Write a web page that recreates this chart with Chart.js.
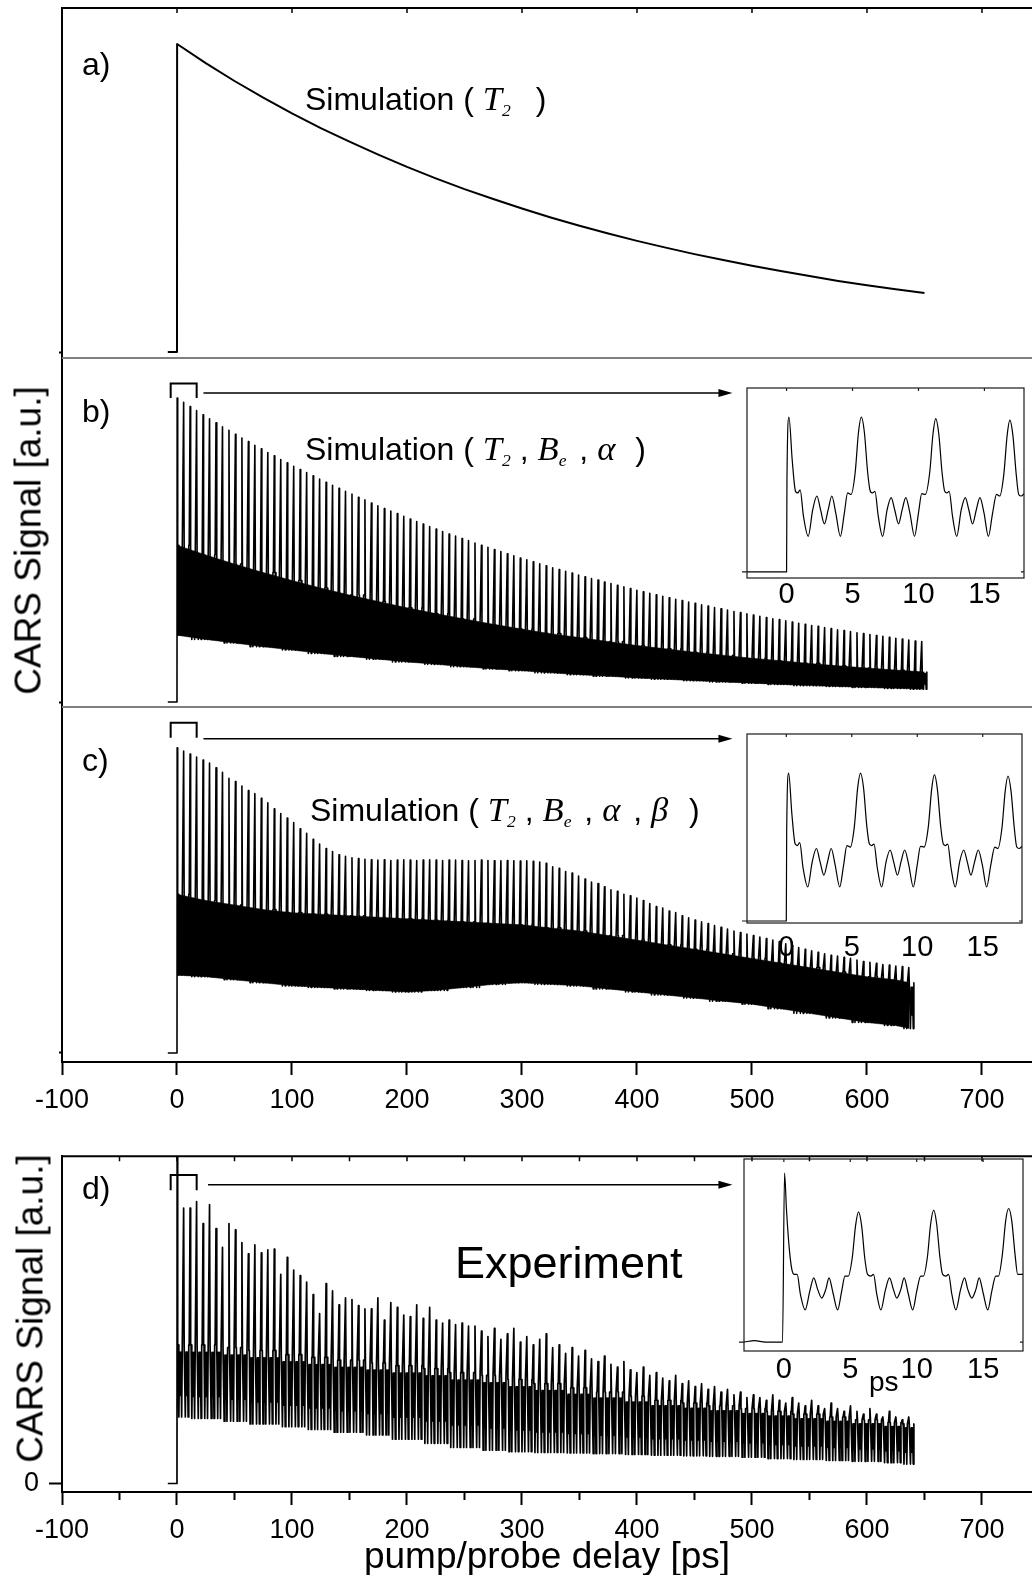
<!DOCTYPE html>
<html>
<head>
<meta charset="utf-8">
<title>CARS signal vs pump/probe delay</title>
<script src="https://cdn.jsdelivr.net/npm/chart.js@4.4.1/dist/chart.umd.min.js"></script>
<style>
  body { margin: 0; background: #fff; }
  #fig { position: relative; width: 1032px; height: 1575px; overflow: hidden; background: #fff;
         font-family: 'Liberation Sans', Arial, sans-serif; color: #000; }
  #fig canvas { position: absolute; }
  .lbl { position: absolute; white-space: nowrap; line-height: 1; }
  .lbl i { font-family: 'Liberation Serif', 'Times New Roman', serif; font-style: italic; font-size: 1.08em; }
  .lbl sub { font-family: 'Liberation Serif', 'Times New Roman', serif; font-style: italic;
             font-size: 0.55em; vertical-align: -0.35em; line-height: 0; }
  .ytitle { position: absolute; width: 400px; text-align: center; font-size: 37px; line-height: 1;
            white-space: nowrap; transform: rotate(-90deg); transform-origin: 50% 50%; }
</style>
</head>
<body>
<div id="fig">
  <canvas id="cA" width="1032" height="357" style="left:0;top:0"></canvas>
  <canvas id="cB" width="1032" height="352" style="left:0;top:355px"></canvas>
  <canvas id="cC" width="1032" height="406" style="left:0;top:704px"></canvas>
  <canvas id="cD" width="1032" height="445" style="left:0;top:1130px"></canvas>
  <canvas id="iB" width="332" height="250" style="left:700px;top:370px"></canvas>
  <canvas id="iC" width="332" height="250" style="left:700px;top:716px"></canvas>
  <canvas id="iD" width="332" height="250" style="left:700px;top:1141px"></canvas>

  <div class="ytitle" style="left:-172px;top:522px">CARS Signal [a.u.]</div>
  <div class="ytitle" style="left:-170px;top:1290px">CARS Signal [a.u.]</div>

  <div class="lbl" style="left:82px;top:48px;font-size:32px">a)</div>
  <div class="lbl" style="left:82px;top:395px;font-size:32px">b)</div>
  <div class="lbl" style="left:82px;top:744px;font-size:32px">c)</div>
  <div class="lbl" style="left:82px;top:1172px;font-size:32px">d)</div>
  <div class="lbl" style="left:305px;top:81px;font-size:32px">Simulation ( <i>T</i><sub style="margin-right:16px">2</sub> )</div>
  <div class="lbl" style="left:305px;top:431px;font-size:32px">Simulation ( <i>T</i><sub>2</sub> , <i>B</i><sub style="margin-right:4px">e</sub> , <i style="margin-right:11px">α</i> )</div>
  <div class="lbl" style="left:310px;top:792px;font-size:32px">Simulation ( <i>T</i><sub>2</sub> , <i>B</i><sub style="margin-right:4px">e</sub> , <i style="margin-right:4px">α</i> , <i style="margin-right:12px">β</i> )</div>
  <div class="lbl" style="left:455px;top:1240px;font-size:45px">Experiment</div>
  <div class="lbl" style="left:869px;top:1368px;font-size:28px">ps</div>
</div>
<script>
// ---- data ----
const X_TICKS = [-100, 0, 100, 200, 300, 400, 500, 600, 700];
const X_MINOR = [-50, 50, 150, 250, 350, 450, 550, 650];
const X_TOP_D = [-50, 0, 50, 100, 150, 200, 250, 300, 350, 400, 450, 500, 550, 600, 650, 700];
const INSET_TICKS = [0, 5, 10, 15];

// revival spacing seen in the insets (ps)
const PERIOD = 5.63;
// shape of the signal between two revivals (offset after peak, ps / position inside the band 0..1)
const BAND_OFFS = [0.45, 0.85, 1.46, 2.12, 2.69, 3.25, 3.9, 4.45, 4.85];
const BAND_FRAC = [1, 1, 0, 0.9, 0.3, 0.9, 0, 1, 1];

// a) simulation with T2 only
const aT = [-8, 0, 0.1, 25, 50, 75, 100, 125, 150, 175, 200, 225, 250, 275, 300, 325, 350, 375, 400, 425, 450, 475, 500, 525, 550, 575, 600, 625, 650];
const aSignal = [0, 0, 1.000, 0.938, 0.880, 0.826, 0.775, 0.727, 0.683, 0.641, 0.601, 0.564, 0.529, 0.497, 0.466, 0.437, 0.410, 0.385, 0.361, 0.339, 0.318, 0.299, 0.280, 0.263, 0.247, 0.231, 0.217, 0.204, 0.192];

// b) T2, Be, alpha
const gridT = [0, 25, 50, 75, 100, 125, 150, 175, 200, 225, 250, 275, 300, 325, 350, 375, 400, 425, 450, 475, 500, 525, 550, 575, 600, 625, 650];
const bBandHi = [0.516, 0.484, 0.454, 0.426, 0.400, 0.375, 0.352, 0.331, 0.310, 0.291, 0.273, 0.256, 0.240, 0.225, 0.212, 0.199, 0.186, 0.175, 0.164, 0.154, 0.144, 0.136, 0.127, 0.119, 0.112, 0.105, 0.099];
const bBandLo = [0.220, 0.206, 0.194, 0.182, 0.171, 0.160, 0.150, 0.141, 0.132, 0.124, 0.116, 0.109, 0.103, 0.096, 0.090, 0.085, 0.079, 0.075, 0.070, 0.066, 0.062, 0.058, 0.054, 0.051, 0.048, 0.045, 0.042];
const bPeaks = [
  1.000, 0.986, 0.972, 0.959, 0.945, 0.932, 0.919, 0.906, 0.894, 0.881,
  0.869, 0.857, 0.845, 0.833, 0.821, 0.810, 0.798, 0.787, 0.776, 0.765,
  0.755, 0.744, 0.734, 0.723, 0.713, 0.703, 0.693, 0.684, 0.674, 0.665,
  0.655, 0.646, 0.637, 0.628, 0.620, 0.611, 0.602, 0.594, 0.586, 0.577,
  0.569, 0.561, 0.553, 0.546, 0.538, 0.531, 0.523, 0.516, 0.509, 0.502,
  0.495, 0.488, 0.481, 0.474, 0.468, 0.461, 0.455, 0.448, 0.442, 0.436,
  0.430, 0.424, 0.418, 0.412, 0.406, 0.401, 0.395, 0.390, 0.384, 0.379,
  0.373, 0.368, 0.363, 0.358, 0.353, 0.348, 0.343, 0.338, 0.334, 0.329,
  0.325, 0.320, 0.316, 0.311, 0.307, 0.303, 0.298, 0.294, 0.290, 0.286,
  0.282, 0.278, 0.274, 0.271, 0.267, 0.263, 0.259, 0.256, 0.252, 0.249,
  0.245, 0.242, 0.238, 0.235, 0.232, 0.228, 0.225, 0.222, 0.219, 0.216,
  0.213, 0.210, 0.207, 0.204, 0.201, 0.199];

// c) T2, Be, alpha, beta
const cGridT = [0, 25, 50, 75, 100, 125, 150, 175, 200, 225, 250, 275, 300, 325, 350, 375, 400, 425, 450, 475, 500, 525, 550, 575, 600, 625, 637];
const cBandHi = [0.52, 0.50, 0.485, 0.47, 0.46, 0.455, 0.45, 0.445, 0.44, 0.435, 0.43, 0.425, 0.42, 0.41, 0.40, 0.385, 0.37, 0.355, 0.34, 0.325, 0.31, 0.295, 0.28, 0.265, 0.25, 0.24, 0.23];
const cBandLo = [0.255, 0.25, 0.24, 0.23, 0.22, 0.215, 0.21, 0.205, 0.20, 0.205, 0.215, 0.225, 0.23, 0.225, 0.22, 0.21, 0.20, 0.19, 0.18, 0.17, 0.16, 0.145, 0.13, 0.115, 0.10, 0.09, 0.08];
const cPeaks = [
  1.00, 0.99, 0.98, 0.97, 0.96, 0.95, 0.935, 0.92, 0.90, 0.89,
  0.875, 0.86, 0.85, 0.835, 0.82, 0.80, 0.785, 0.77, 0.755, 0.735,
  0.72, 0.70, 0.685, 0.67, 0.66, 0.65, 0.645, 0.64, 0.637, 0.635,
  0.633, 0.632, 0.633, 0.631, 0.632, 0.633, 0.632, 0.631, 0.632, 0.633,
  0.632, 0.631, 0.632, 0.632, 0.631, 0.630, 0.631, 0.632, 0.631, 0.630,
  0.630, 0.631, 0.630, 0.629, 0.630, 0.628, 0.626, 0.622, 0.61, 0.605,
  0.595, 0.59, 0.58, 0.57, 0.56, 0.555, 0.545, 0.535, 0.53, 0.52,
  0.515, 0.508, 0.50, 0.49, 0.48, 0.475, 0.465, 0.46, 0.45, 0.443,
  0.436, 0.43, 0.424, 0.418, 0.412, 0.406, 0.40, 0.395, 0.39, 0.385,
  0.38, 0.375, 0.37, 0.365, 0.358, 0.352, 0.346, 0.34, 0.335, 0.33,
  0.325, 0.32, 0.318, 0.314, 0.31, 0.305, 0.30, 0.297, 0.294, 0.29,
  0.288, 0.285, 0.283, 0.28];

// d) experiment
const dBandHi = [0.50, 0.50, 0.49, 0.48, 0.465, 0.455, 0.445, 0.435, 0.425, 0.415, 0.40, 0.39, 0.375, 0.36, 0.345, 0.33, 0.315, 0.30, 0.29, 0.28, 0.27, 0.26, 0.25, 0.24, 0.23, 0.22, 0.215];
const dBandLo = [0.24, 0.235, 0.225, 0.215, 0.205, 0.195, 0.185, 0.175, 0.16, 0.145, 0.13, 0.12, 0.115, 0.112, 0.11, 0.108, 0.105, 0.102, 0.10, 0.098, 0.095, 0.09, 0.087, 0.083, 0.08, 0.075, 0.07];
const dPeaks = [
  1.40, 0.994, 0.994, 1.017, 0.938, 1.006, 0.920, 0.852, 0.938, 0.915,
  0.869, 0.829, 0.861, 0.832, 0.843, 0.846, 0.755, 0.816, 0.770, 0.750,
  0.727, 0.682, 0.613, 0.721, 0.695, 0.645, 0.670, 0.664, 0.642, 0.630,
  0.630, 0.670, 0.590, 0.653, 0.636, 0.608, 0.602, 0.645, 0.596, 0.636,
  0.590, 0.579, 0.590, 0.573, 0.579, 0.568, 0.568, 0.55, 0.53, 0.56,
  0.52, 0.54, 0.56, 0.51, 0.53, 0.50, 0.52, 0.54, 0.49, 0.50,
  0.47, 0.49, 0.46, 0.48, 0.45, 0.44, 0.46, 0.43, 0.42, 0.44,
  0.41, 0.40, 0.42, 0.39, 0.40, 0.38, 0.37, 0.39, 0.36, 0.37,
  0.35, 0.36, 0.34, 0.35, 0.33, 0.34, 0.32, 0.33, 0.31, 0.32,
  0.31, 0.30, 0.32, 0.30, 0.29, 0.31, 0.29, 0.28, 0.30, 0.28,
  0.27, 0.29, 0.27, 0.26, 0.28, 0.26, 0.25, 0.27, 0.25, 0.24,
  0.26, 0.24, 0.23, 0.24];

// insets: first 18 ps
const simInsetT = [-3, 0, 0.03, 0.18, 0.43, 0.68, 0.85, 1.03, 1.28, 1.64, 1.98, 2.30, 2.58, 2.87, 3.15, 3.43, 3.73, 4.08, 4.38, 4.63, 4.89, 5.2, 5.45, 5.67, 5.9, 6.15, 6.35, 6.52, 6.70, 6.95, 7.28, 7.62, 7.93, 8.2, 8.49, 8.76, 9.04, 9.35, 9.7, 10.0, 10.25, 10.52, 10.85, 11.1, 11.31, 11.54, 11.79, 11.99, 12.15, 12.33, 12.58, 12.9, 13.24, 13.55, 13.82, 14.1, 14.38, 14.66, 14.97, 15.3, 15.62, 15.92, 16.16, 16.47, 16.72, 16.93, 17.16, 17.41, 17.6, 17.8, 18.0];
const simInsetV = [0, 0, 0.6, 1.0, 0.72, 0.52, 0.51, 0.53, 0.36, 0.23, 0.40, 0.49, 0.40, 0.31, 0.40, 0.49, 0.38, 0.23, 0.38, 0.51, 0.50, 0.64, 0.90, 1.0, 0.90, 0.64, 0.52, 0.51, 0.52, 0.36, 0.23, 0.40, 0.48, 0.40, 0.31, 0.40, 0.48, 0.38, 0.23, 0.38, 0.505, 0.50, 0.64, 0.89, 0.99, 0.89, 0.64, 0.52, 0.51, 0.52, 0.36, 0.23, 0.40, 0.48, 0.40, 0.31, 0.40, 0.48, 0.38, 0.23, 0.38, 0.50, 0.49, 0.63, 0.88, 0.98, 0.88, 0.63, 0.50, 0.49, 0.505];
const expInsetT = [-3, -2.2, -1.4, -0.2, -0.1, 0.05, 0.2, 0.4, 0.6, 0.8, 1.0, 1.25, 1.6, 1.95, 2.25, 2.55, 2.85, 3.15, 3.4, 3.7, 4.05, 4.35, 4.6, 4.85, 5.15, 5.4, 5.62, 5.85, 6.1, 6.3, 6.55, 6.75, 7.0, 7.3, 7.65, 7.95, 8.25, 8.5, 8.8, 9.05, 9.35, 9.7, 10.0, 10.3, 10.5, 10.8, 11.05, 11.28, 11.5, 11.75, 11.95, 12.2, 12.4, 12.65, 12.95, 13.3, 13.6, 13.85, 14.15, 14.45, 14.7, 15.0, 15.35, 15.65, 15.95, 16.15, 16.45, 16.7, 16.92, 17.15, 17.4, 17.6, 18.0];
const expInsetV = [0, 0.008, 0, 0, 0, 1.0, 0.78, 0.56, 0.43, 0.40, 0.40, 0.28, 0.19, 0.30, 0.38, 0.31, 0.26, 0.31, 0.38, 0.29, 0.19, 0.30, 0.39, 0.39, 0.50, 0.69, 0.77, 0.69, 0.49, 0.40, 0.39, 0.40, 0.28, 0.19, 0.31, 0.38, 0.31, 0.26, 0.31, 0.38, 0.29, 0.19, 0.30, 0.39, 0.39, 0.50, 0.70, 0.78, 0.70, 0.50, 0.40, 0.39, 0.40, 0.28, 0.19, 0.31, 0.38, 0.31, 0.26, 0.31, 0.38, 0.29, 0.19, 0.30, 0.39, 0.39, 0.52, 0.72, 0.79, 0.72, 0.52, 0.40, 0.40];

// ---- chart setup ----
const X_MIN = -100, X_MAX = 743.5;
const AXIS_W = 62;
Chart.defaults.font.family = "'Liberation Sans', Arial, sans-serif";
Chart.defaults.color = '#000';

const mk = (xs, ys) => xs.map((x, i) => ({x, y: ys[i]}));

function nearestIndex(arr, t) {
  let best = 0;
  arr.forEach((v, i) => { if (Math.abs(v - t) < Math.abs(arr[best] - t)) best = i; });
  return best;
}

// one peak per revival, then the small wiggles inside the band until the next one
function revivalTrace(peaks, gT, hi, lo) {
  const pts = [{x: -8, y: 0}, {x: 0, y: 0}];
  peaks.forEach((p, k) => {
    const t0 = k * PERIOD + 0.15;
    const g = nearestIndex(gT, t0 + 2.8);
    pts.push({x: t0, y: p});
    BAND_OFFS.forEach((o, j) => {
      pts.push({x: t0 + o, y: lo[g] + BAND_FRAC[j] * (hi[g] - lo[g])});
    });
  });
  return pts;
}

function bandSets(gT, hi, lo) {
  return [
    {data: mk(gT, hi), fill: '+1', backgroundColor: '#000', borderWidth: 0.5},
    {data: mk(gT, lo), borderWidth: 0.5}
  ];
}

const figurePlugin = {
  id: 'figure',
  afterDraw(chart, args, o) {
    const {ctx, chartArea: a} = chart;
    const x = chart.scales.x, y = chart.scales.y;
    ctx.save();
    if (o.topBorder) {
      ctx.strokeStyle = '#000';
      ctx.lineWidth = 2;
      ctx.beginPath();
      ctx.moveTo(a.left - 1, a.top);
      ctx.lineTo(a.right, a.top);
      ctx.stroke();
      ctx.lineWidth = 1.5;
      ctx.beginPath();
      (o.topTicks || []).forEach(v => {
        const px = x.getPixelForValue(v);
        ctx.moveTo(px, a.top);
        ctx.lineTo(px, a.top + 5);
      });
      ctx.stroke();
    }
    if (o.separator) {
      ctx.strokeStyle = '#7f7f7f';
      ctx.lineWidth = 2;
      ctx.beginPath();
      ctx.moveTo(a.left, a.top);
      ctx.lineTo(a.right, a.top);
      ctx.stroke();
    }
    if (o.minorTicks) {
      ctx.strokeStyle = '#000';
      ctx.lineWidth = 2;
      ctx.beginPath();
      o.minorTicks.forEach(v => {
        const px = x.getPixelForValue(v);
        ctx.moveTo(px, a.bottom);
        ctx.lineTo(px, a.bottom + 8);
      });
      ctx.stroke();
    }
    if (o.bracket) {
      const b = o.bracket;
      const x0 = x.getPixelForValue(b.from), x1 = x.getPixelForValue(b.to);
      const yt = y.getPixelForValue(b.top), yl = y.getPixelForValue(b.leg);
      ctx.strokeStyle = '#000';
      ctx.lineWidth = 2;
      ctx.beginPath();
      ctx.moveTo(x0, yl);
      ctx.lineTo(x0, yt);
      ctx.lineTo(x1, yt);
      ctx.lineTo(x1, yl);
      ctx.stroke();
      const ya = y.getPixelForValue(b.arrowY);
      const xa0 = x.getPixelForValue(b.arrowFrom), xa1 = x.getPixelForValue(b.arrowTo);
      ctx.lineWidth = 1.6;
      ctx.beginPath();
      ctx.moveTo(xa0, ya);
      ctx.lineTo(xa1 - 10, ya);
      ctx.stroke();
      ctx.fillStyle = '#000';
      ctx.beginPath();
      ctx.moveTo(xa1, ya);
      ctx.lineTo(xa1 - 14, ya - 4);
      ctx.lineTo(xa1 - 14, ya + 4);
      ctx.closePath();
      ctx.fill();
    }
    ctx.restore();
  }
};

function mainPanel(id, cfg) {
  return new Chart(document.getElementById(id), {
    type: 'line',
    data: {datasets: cfg.datasets},
    options: {
      responsive: false,
      animation: false,
      events: [],
      layout: {padding: {top: cfg.padTop, left: 0, right: 0, bottom: 0}},
      elements: {
        point: {radius: 0},
        line: {tension: 0, borderColor: '#000', borderJoinStyle: 'round'}
      },
      plugins: {legend: {display: false}, tooltip: {enabled: false}, figure: cfg.frame},
      scales: {
        x: {
          type: 'linear', min: X_MIN, max: X_MAX, display: !!cfg.xAxisH,
          afterFit: s => { s.height = cfg.xAxisH || 0; },
          afterBuildTicks: s => { s.ticks = X_TICKS.map(v => ({value: v})); },
          border: {display: true, color: '#000', width: 2},
          grid: {drawOnChartArea: false, tickLength: 13, tickWidth: 2, color: '#000'},
          ticks: {font: {size: 27}, padding: 9, maxRotation: 0, autoSkip: false, color: '#000'},
          title: {display: !!cfg.xTitle, text: 'pump/probe delay [ps]', font: {size: 37}, color: '#000',
                  padding: {top: 0, bottom: -5}}
        },
        y: {
          min: cfg.yMin, max: cfg.yMax,
          afterFit: s => { s.width = AXIS_W; },
          afterBuildTicks: s => { s.ticks = [{value: 0}]; },
          border: {display: true, color: '#000', width: 2},
          grid: {drawOnChartArea: false, tickLength: cfg.zeroLabel ? 13 : 3, tickWidth: 2, color: '#000'},
          ticks: {display: !!cfg.zeroLabel, font: {size: 27}, padding: 10, color: '#000'}
        }
      }
    },
    plugins: [figurePlugin]
  });
}

const insetPlugin = {
  id: 'insetFrame',
  afterDraw(chart) {
    const {ctx, chartArea: a, scales: {x, y}} = chart;
    const y0 = y.getPixelForValue(0);
    ctx.save();
    ctx.strokeStyle = '#1a1a1a';
    ctx.lineWidth = 1.2;
    ctx.strokeRect(a.left, a.top, a.right - a.left, a.bottom - a.top);
    ctx.beginPath();
    ctx.moveTo(a.left - 5, y0);
    ctx.lineTo(a.left, y0);
    ctx.moveTo(a.right, y0);
    ctx.lineTo(a.right - 3, y0);
    INSET_TICKS.forEach(v => {
      const px = x.getPixelForValue(v);
      ctx.moveTo(px, a.top);
      ctx.lineTo(px, a.top + 3);
    });
    ctx.stroke();
    ctx.restore();
  }
};

function insetPanel(id, cfg) {
  return new Chart(document.getElementById(id), {
    type: 'line',
    data: {datasets: [{data: mk(cfg.t, cfg.v), borderColor: '#000', borderWidth: 1.2,
                       cubicInterpolationMode: 'monotone'}]},
    options: {
      responsive: false,
      animation: false,
      events: [],
      layout: {padding: {top: cfg.padTop, left: cfg.padLeft, right: cfg.padRight, bottom: 0}},
      elements: {point: {radius: 0}},
      plugins: {legend: {display: false}, tooltip: {enabled: false}},
      scales: {
        x: {
          type: 'linear', min: -3, max: 18,
          afterFit: s => { s.height = cfg.xH; },
          afterBuildTicks: s => { s.ticks = INSET_TICKS.map(v => ({value: v})); },
          border: {display: false},
          grid: {display: false, drawTicks: false},
          ticks: {font: {size: 29}, padding: cfg.tickPad, maxRotation: 0, autoSkip: false, color: '#000'}
        },
        y: {display: false, min: cfg.yMin, max: cfg.yMax}
      }
    },
    plugins: [insetPlugin]
  });
}

// ---- panels ----
mainPanel('cA', {
  padTop: 8, yMin: -0.016, yMax: 1.117,
  frame: {topBorder: true, topTicks: X_TICKS},
  datasets: [{data: mk(aT, aSignal), borderWidth: 2}]
});

mainPanel('cB', {
  padTop: 3, yMin: -0.0164, yMax: 1.132,
  frame: {separator: true,
          bracket: {from: -5.5, to: 17.1, top: 1.048, leg: 1.0, arrowY: 1.017, arrowFrom: 23, arrowTo: 483}},
  datasets: [{data: revivalTrace(bPeaks, gridT, bBandHi, bBandLo), borderWidth: 1.6}]
    .concat(bandSets(gridT, bBandHi, bBandLo))
});

mainPanel('cC', {
  padTop: 3, yMin: -0.0295, yMax: 1.134, xAxisH: 48,
  frame: {separator: true,
          bracket: {from: -5.5, to: 17.1, top: 1.082, leg: 1.033, arrowY: 1.03, arrowFrom: 23, arrowTo: 483}},
  datasets: [{data: revivalTrace(cPeaks, cGridT, cBandHi, cBandLo), borderWidth: 1.6}]
    .concat(bandSets(cGridT, cBandHi, cBandLo))
});

mainPanel('cD', {
  padTop: 7, yMin: -0.0307, yMax: 1.181, xAxisH: 83, xTitle: true, zeroLabel: true,
  frame: {topBorder: true, topTicks: X_TOP_D, minorTicks: X_MINOR,
          bracket: {from: -5.5, to: 17.1, top: 1.113, leg: 1.058, arrowY: 1.078, arrowFrom: 27, arrowTo: 483}},
  datasets: [{data: revivalTrace(dPeaks, cGridT, dBandHi, dBandLo), borderWidth: 1.7}]
});

insetPanel('iB', {t: simInsetT, v: simInsetV, padTop: 18, padLeft: 47, padRight: 8, xH: 42, tickPad: 0,
                  yMin: -0.039, yMax: 1.187});
insetPanel('iC', {t: simInsetT, v: simInsetV, padTop: 18, padLeft: 47, padRight: 10, xH: 43, tickPad: 8,
                  yMin: -0.0135, yMax: 1.264});
insetPanel('iD', {t: expInsetT, v: expInsetV, padTop: 18, padLeft: 44, padRight: 9, xH: 40, tickPad: 2,
                  yMin: -0.053, yMax: 1.083});
</script>
</body>
</html>
